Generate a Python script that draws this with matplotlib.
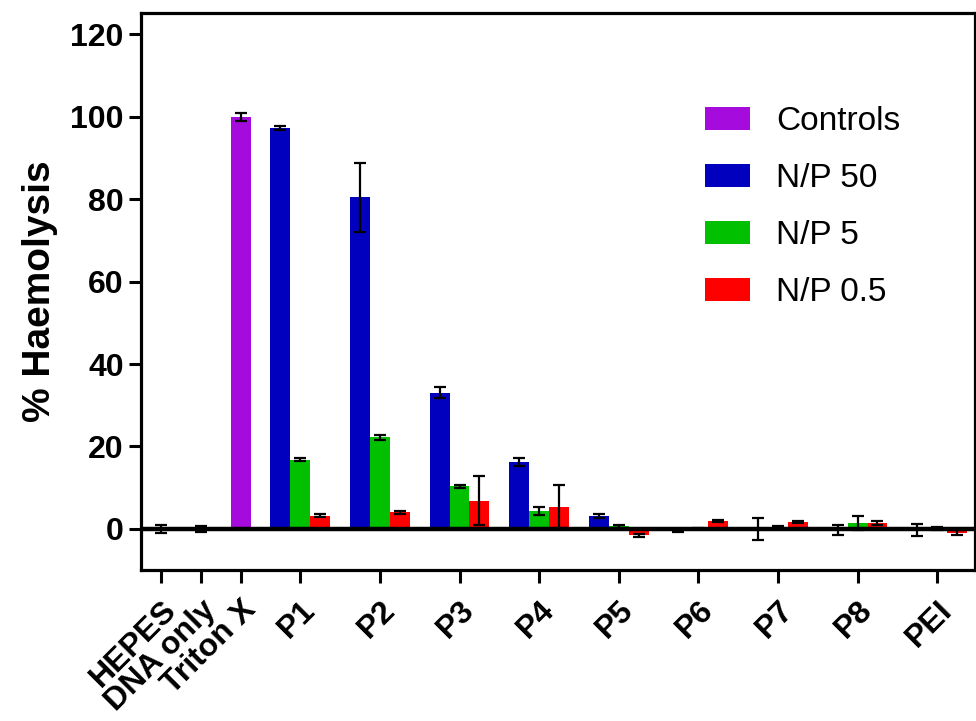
import matplotlib
matplotlib.use("Agg")
import matplotlib.pyplot as plt
import numpy as np

plt.rcParams['font.family'] = ['Liberation Sans', 'DejaVu Sans']

# controls
control_labels = ['HEPES', 'DNA only', 'Triton X']
control_vals = [0.0, 0.0, 100.0]
control_err = [0.9, 0.8, 0.9]

# polymer groups
groups = ['P1', 'P2', 'P3', 'P4', 'P5', 'P6', 'P7', 'P8', 'PEI']
np50 = [97.3, 80.5, 33.0, 16.2, 3.1, -0.5, 0.0, -0.3, -0.3]
np50_err = [0.5, 8.4, 1.3, 0.9, 0.4, 0.2, 2.6, 1.3, 1.4]
np5 = [16.8, 22.2, 10.3, 4.3, 0.6, 0.1, 0.3, 1.3, 0.1]
np5_err = [0.3, 0.6, 0.4, 0.9, 0.3, 0.2, 0.3, 1.7, 0.4]
np05 = [3.2, 4.0, 6.8, 5.4, -1.6, 1.9, 1.6, 1.5, -1.0]
np05_err = [0.4, 0.3, 5.9, 5.3, 0.4, 0.2, 0.3, 0.5, 0.6]

c_ctrl = '#A50BDD'
c_50 = '#0000BE'
c_5 = '#00C000'
c_05 = '#FF0000'

fig = plt.figure(figsize=(9.76, 7.21), dpi=100)
ax = fig.add_axes([0.1445, 0.2094, 0.8545, 0.7726])

ctrl_x = np.array([0, 2, 4])
grp_x = 7 + 4 * np.arange(len(groups))

ekw = dict(ecolor='k', elinewidth=1.6, capsize=4.5, capthick=1.6)
ax.bar(ctrl_x, control_vals, width=1, color=c_ctrl, yerr=control_err,
       error_kw=ekw, label='Controls', zorder=2)
ax.bar(grp_x - 1, np50, width=1, color=c_50, yerr=np50_err,
       error_kw=ekw, label='N/P 50', zorder=2)
ax.bar(grp_x, np5, width=1, color=c_5, yerr=np5_err,
       error_kw=ekw, label='N/P 5', zorder=2)
ax.bar(grp_x + 1, np05, width=1, color=c_05, yerr=np05_err,
       error_kw=ekw, label='N/P 0.5', zorder=2)

ax.axhline(0, color='k', lw=3.2, zorder=3)

ax.set_xlim(-1.0, 40.9)
ax.set_ylim(-10, 125.2)
ax.set_yticks([0, 20, 40, 60, 80, 100, 120])
ax.set_xticks(list(ctrl_x) + list(grp_x))
ax.set_xticklabels(control_labels + groups, rotation=45, ha='right',
                   rotation_mode='anchor', fontsize=23, fontweight='bold')
for t in ax.get_yticklabels():
    t.set_fontsize(23)
    t.set_fontweight('bold')
ax.tick_params(axis='both', width=2.2, length=9, direction='out')
ax.tick_params(axis='x', pad=9)
for s in ax.spines.values():
    s.set_linewidth(2.3)

ax.set_ylabel('% Haemolysis', fontsize=28, fontweight='bold', labelpad=9)

ax.legend(loc='upper left', bbox_to_anchor=(0.722, 0.853),
          bbox_transform=fig.transFigure, frameon=False, fontsize=24,
          handlelength=1.35, handleheight=0.7, handletextpad=0.8,
          labelspacing=0.78, borderpad=0, borderaxespad=0)

fig.savefig('out.png', dpi=100)
